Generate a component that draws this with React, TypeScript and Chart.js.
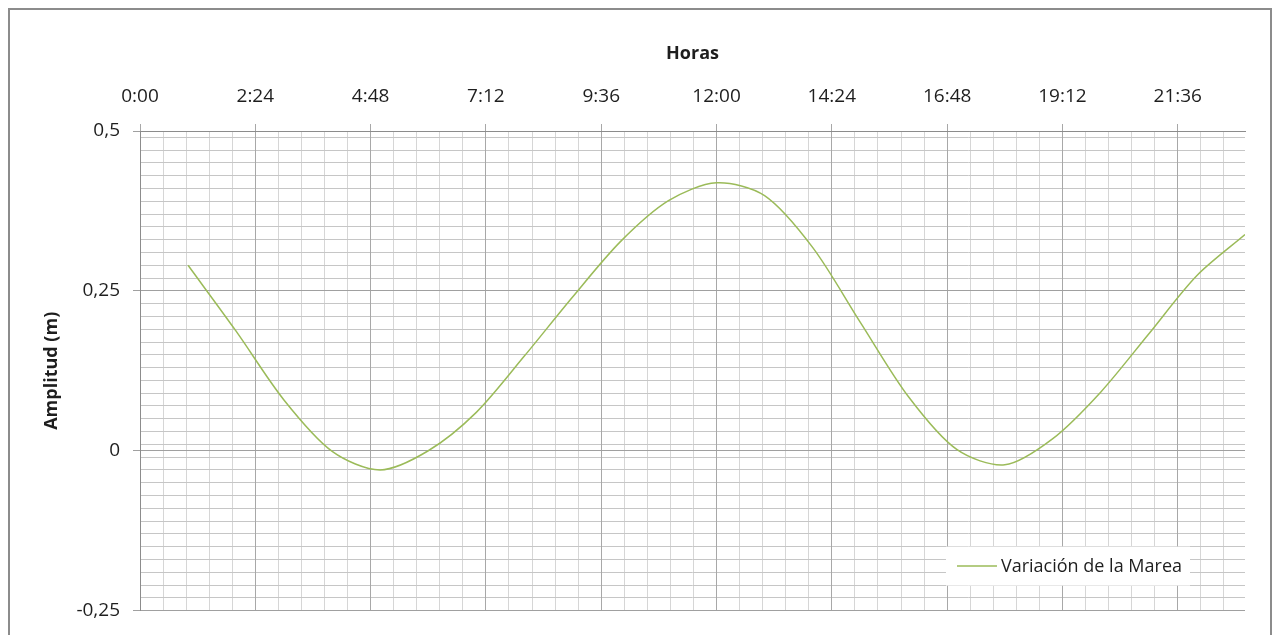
import React, { useEffect, useRef } from "react";
import { Chart, registerables } from "chart.js";

Chart.register(...registerables);

// Data (hours of day vs tide amplitude in metres)
const hours: number[] = [1, 2, 3, 4, 5, 6, 7, 8, 9, 10, 11, 12, 13, 14, 15, 16, 17, 18, 19, 20, 21, 22, 23];
const amplitudes: number[] = [
  0.290, 0.187, 0.079, -0.001, -0.030, 0.000, 0.060, 0.148, 0.240, 0.327, 0.391, 0.419,
  0.399, 0.318, 0.200, 0.084, 0.002, -0.022, 0.019, 0.092, 0.183, 0.274, 0.338,
];
const seriesLabel = "Variación de la Marea";
const xTitle = "Horas";
const yTitle = "Amplitud (m)";
const xMajorTicks: number[] = [0, 2.4, 4.8, 7.2, 9.6, 12, 14.4, 16.8, 19.2, 21.6];
const yMajorTicks: number[] = [-0.25, 0, 0.25, 0.5];

const X_MIN = 0;
const X_MAX = 23;
const Y_MIN = -0.25;
const Y_MAX = 0.5;
const X_MINOR_STEP = 0.48;
const Y_MINOR_STEP = 0.02;

const FONT = '"Open Sans", "DejaVu Sans", sans-serif';
const TEXT = "#1e1e1e";
const LINE = "#9bbb59";

function fmtTime(v: number): string {
  const h = Math.floor(v + 1e-9);
  const m = Math.round((v - h) * 60);
  return `${h}:${m < 10 ? "0" + m : m}`;
}
function fmtNum(v: number): string {
  return String(Math.round(v * 1000) / 1000).replace(".", ",");
}
function minorTicks(min: number, max: number, step: number) {
  const out: { value: number }[] = [];
  for (let i = 0; ; i++) {
    const v = Math.round((min + i * step) * 10000) / 10000;
    if (v > max + 1e-9) break;
    out.push({ value: v });
  }
  return out;
}

const legendPlugin = {
  id: "boxLegend",
  afterDraw(chart: any) {
    const { ctx, chartArea } = chart;
    const ds = chart.data.datasets[0];
    ctx.save();
    ctx.font = `18px ${FONT}`;
    const tw = ctx.measureText(ds.label).width;
    const lineLen = 40;
    const padL = 11;
    const padR = 8;
    const gap = 4;
    const w = padL + lineLen + gap + tw + padR;
    const h = 39;
    const x = chartArea.right - 55 - w;
    const y = chartArea.bottom - 25 - h;
    ctx.fillStyle = "#ffffff";
    ctx.fillRect(x, y, w, h);
    const cy = y + h / 2;
    ctx.strokeStyle = ds.borderColor;
    ctx.lineWidth = 1.5;
    ctx.beginPath();
    ctx.moveTo(x + padL, cy);
    ctx.lineTo(x + padL + lineLen, cy);
    ctx.stroke();
    ctx.fillStyle = TEXT;
    ctx.textBaseline = "middle";
    ctx.textAlign = "left";
    ctx.fillText(ds.label, x + padL + lineLen + gap, cy + 1);
    ctx.restore();
  },
};

export default function App() {
  const ref = useRef<HTMLCanvasElement | null>(null);

  useEffect(() => {
    if (!ref.current) return;
    const chart = new Chart(ref.current, {
      type: "line",
      data: {
        datasets: [
          {
            label: seriesLabel,
            data: hours.map((h, i) => ({ x: h, y: amplitudes[i] })),
            borderColor: LINE,
            borderWidth: 1.5,
            pointRadius: 0,
            tension: 0.3,
            fill: false,
          },
        ],
      },
      options: {
        animation: false,
        responsive: false,
        layout: { padding: { left: 0, top: 0, right: 25, bottom: 24 } },
        plugins: {
          legend: { display: false },
          tooltip: { enabled: false },
        },
        scales: {
          xMinor: {
            type: "linear",
            position: "top",
            min: X_MIN,
            max: X_MAX,
            afterBuildTicks: (s: any) => {
              s.ticks = minorTicks(X_MIN, X_MAX, X_MINOR_STEP);
            },
            ticks: { display: false },
            grid: { color: "#d6d6d6", drawTicks: false, z: -2 },
            border: { display: false },
            afterFit: (s: any) => {
              s.height = 0;
            },
          },
          x: {
            type: "linear",
            position: "top",
            min: X_MIN,
            max: X_MAX,
            afterBuildTicks: (s: any) => {
              s.ticks = xMajorTicks.map((v) => ({ value: v }));
            },
            ticks: {
              autoSkip: false,
              maxRotation: 0,
              padding: 16,
              color: TEXT,
              font: { family: FONT, size: 19 },
              callback: (v: any) => fmtTime(Number(v)),
            },
            grid: { color: "#a8a8a8", tickLength: 7, z: -1 },
            border: { color: "#8c8c8c" },
            title: {
              display: true,
              text: xTitle,
              color: TEXT,
              font: { family: FONT, size: 18, weight: "bold" },
              padding: { top: 33, bottom: 0 },
            },
            afterFit: (s: any) => {
              s.height = 121;
            },
          },
          yMinor: {
            type: "linear",
            position: "left",
            min: Y_MIN,
            max: Y_MAX,
            afterBuildTicks: (s: any) => {
              s.ticks = minorTicks(Y_MIN, Y_MAX, Y_MINOR_STEP);
            },
            ticks: { display: false },
            grid: { color: "#c6c6c6", drawTicks: false, z: -2 },
            border: { display: false },
            afterFit: (s: any) => {
              s.width = 0;
            },
          },
          y: {
            type: "linear",
            position: "left",
            min: Y_MIN,
            max: Y_MAX,
            afterBuildTicks: (s: any) => {
              s.ticks = yMajorTicks.map((v) => ({ value: v }));
            },
            ticks: {
              autoSkip: false,
              padding: 13,
              color: TEXT,
              font: { family: FONT, size: 19 },
              callback: (v: any) => fmtNum(Number(v)),
            },
            grid: { color: "#a0a0a0", tickLength: 7, z: -1 },
            border: { color: "#8c8c8c" },
            title: {
              display: true,
              text: yTitle,
              color: TEXT,
              font: { family: FONT, size: 18, weight: "bold" },
              padding: { top: 31, bottom: 0 },
            },
            afterFit: (s: any) => {
              s.width = 130;
            },
          },
        },
      } as any,
      plugins: [legendPlugin],
    });
    return () => chart.destroy();
  }, []);

  return (
    <div
      style={{
        width: 1264,
        height: 627,
        boxSizing: "border-box",
        borderTop: "2px solid #8c8c8c",
        borderLeft: "2px solid #8c8c8c",
        borderRight: "2px solid #8c8c8c",
        background: "#ffffff",
        overflow: "hidden",
      }}
    >
      <canvas ref={ref} width={1260} height={625} style={{ display: "block" }} />
    </div>
  );
}
